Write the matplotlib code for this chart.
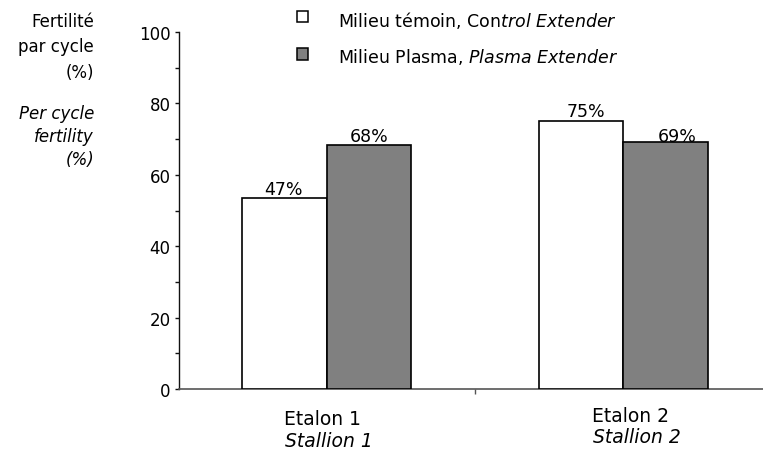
import matplotlib
matplotlib.use('Agg')
import matplotlib.pyplot as plt
from matplotlib.patches import Rectangle
from matplotlib.ticker import MultipleLocator, FixedLocator, NullFormatter

# values (bar heights) and the printed labels
groups = ['Etalon 1', 'Etalon 2']
groups_en = ['Stallion 1', 'Stallion 2']
control = [53.5, 75.2]
plasma = [68.4, 69.3]
control_txt = ['47%', '75%']
plasma_txt = ['68%', '69%']
legend_labels = [r'Milieu témoin, Con$\mathit{trol\ Extender}$',
                 r'Milieu Plasma, $\mathit{Plasma\ Extender}$']

W, H = 763, 452
PX = 0.72  # points per pixel at dpi 100

plt.rcParams['font.family'] = ['DejaVu Sans']
plt.rcParams['mathtext.fontset'] = 'dejavusans'

fig = plt.figure(figsize=(W / 100, H / 100), dpi=100)
ax = fig.add_axes([178.5 / W, 62 / H, 584.5 / W, 357 / H])

x = [0, 1]
bw = 0.285
xc = [i - bw / 2 for i in x]
xp = [i + bw / 2 for i in x]
b1 = ax.bar(xc, control, bw, color='white', edgecolor='black', linewidth=1.2, zorder=3)
b2 = ax.bar(xp, plasma, bw, color='#808080', edgecolor='black', linewidth=1.2, zorder=3)

ax.set_xlim(-0.5, -0.5 + 584.5 / 296.5)
ax.set_ylim(0, 100)

# value labels (offsets in px, as in the original)
c_off = [(-1.5, 4), (4.5, 4.7)]
p_off = [(0, 4), (11.5, 1)]
for i in range(2):
    ax.annotate(control_txt[i], (xc[i], control[i]), xytext=(c_off[i][0] * PX, c_off[i][1] * PX),
                textcoords='offset points', ha='center', va='baseline', fontsize=12.5)
    ax.annotate(plasma_txt[i], (xp[i], plasma[i]), xytext=(p_off[i][0] * PX, p_off[i][1] * PX),
                textcoords='offset points', ha='center', va='baseline', fontsize=12.5)

# axes styling
for s in ['top', 'right']:
    ax.spines[s].set_visible(False)
ax.spines['left'].set_color('#111111')
ax.spines['left'].set_linewidth(1.0)
ax.spines['bottom'].set_color('#555555')
ax.spines['bottom'].set_linewidth(1.2)

ax.yaxis.set_major_locator(MultipleLocator(20))
ax.yaxis.set_minor_locator(MultipleLocator(10))
ax.tick_params(axis='y', which='both', direction='out', length=4.5 * PX, width=1.0,
               color='#111111', labelsize=12, pad=2.5)
ax.xaxis.set_major_locator(FixedLocator(x))
ax.xaxis.set_major_formatter(NullFormatter())
ax.xaxis.set_minor_locator(FixedLocator([0.5]))
ax.tick_params(axis='x', which='major', length=0)
ax.tick_params(axis='x', which='minor', direction='out', length=5 * PX, width=1.0, color='#555555')

# category labels, two lines, left aligned
lab_pos = [((-42.75, -35), (-41.75, -57)), ((-31.25, -31.7), (-30.25, -53))]
for i in range(2):
    (ax1, ay1), (ax2, ay2) = lab_pos[i]
    ax.annotate(groups[i], (x[i], 0), xytext=(ax1 * PX, ay1 * PX), textcoords='offset points',
                ha='left', va='baseline', fontsize=13.5, annotation_clip=False)
    ax.annotate(groups_en[i], (x[i], 0), xytext=(ax2 * PX, ay2 * PX), textcoords='offset points',
                ha='left', va='baseline', fontsize=13.5, style='italic', annotation_clip=False)

# y axis title, right aligned, one text per line
ylab = ['Fertilité', 'par cycle', '(%)', 'Per cycle', 'fertility', '(%)']
ylab_base = [26.7, 52, 78, 118.7, 141.5, 165]
ylab_style = ['normal'] * 3 + ['italic'] * 3
for t, yb, st in zip(ylab, ylab_base, ylab_style):
    fig.text(94 / W, 1 - yb / H, t, ha='right', va='baseline', fontsize=12, style=st)

# legend drawn by hand
sq_top = [11.7, 49.3]
txt_base = [26.7, 63.3]
fills = ['white', '#808080']
for i in range(2):
    fig.add_artist(Rectangle((296.7 / W, 1 - (sq_top[i] + 11.5) / H), 11.5 / W, 11.5 / H,
                             transform=fig.transFigure, facecolor=fills[i], edgecolor='black',
                             linewidth=1.1))
    fig.text(338 / W, 1 - txt_base[i] / H, legend_labels[i], ha='left', va='baseline', fontsize=12.5)

fig.savefig('out.png', dpi=100)
